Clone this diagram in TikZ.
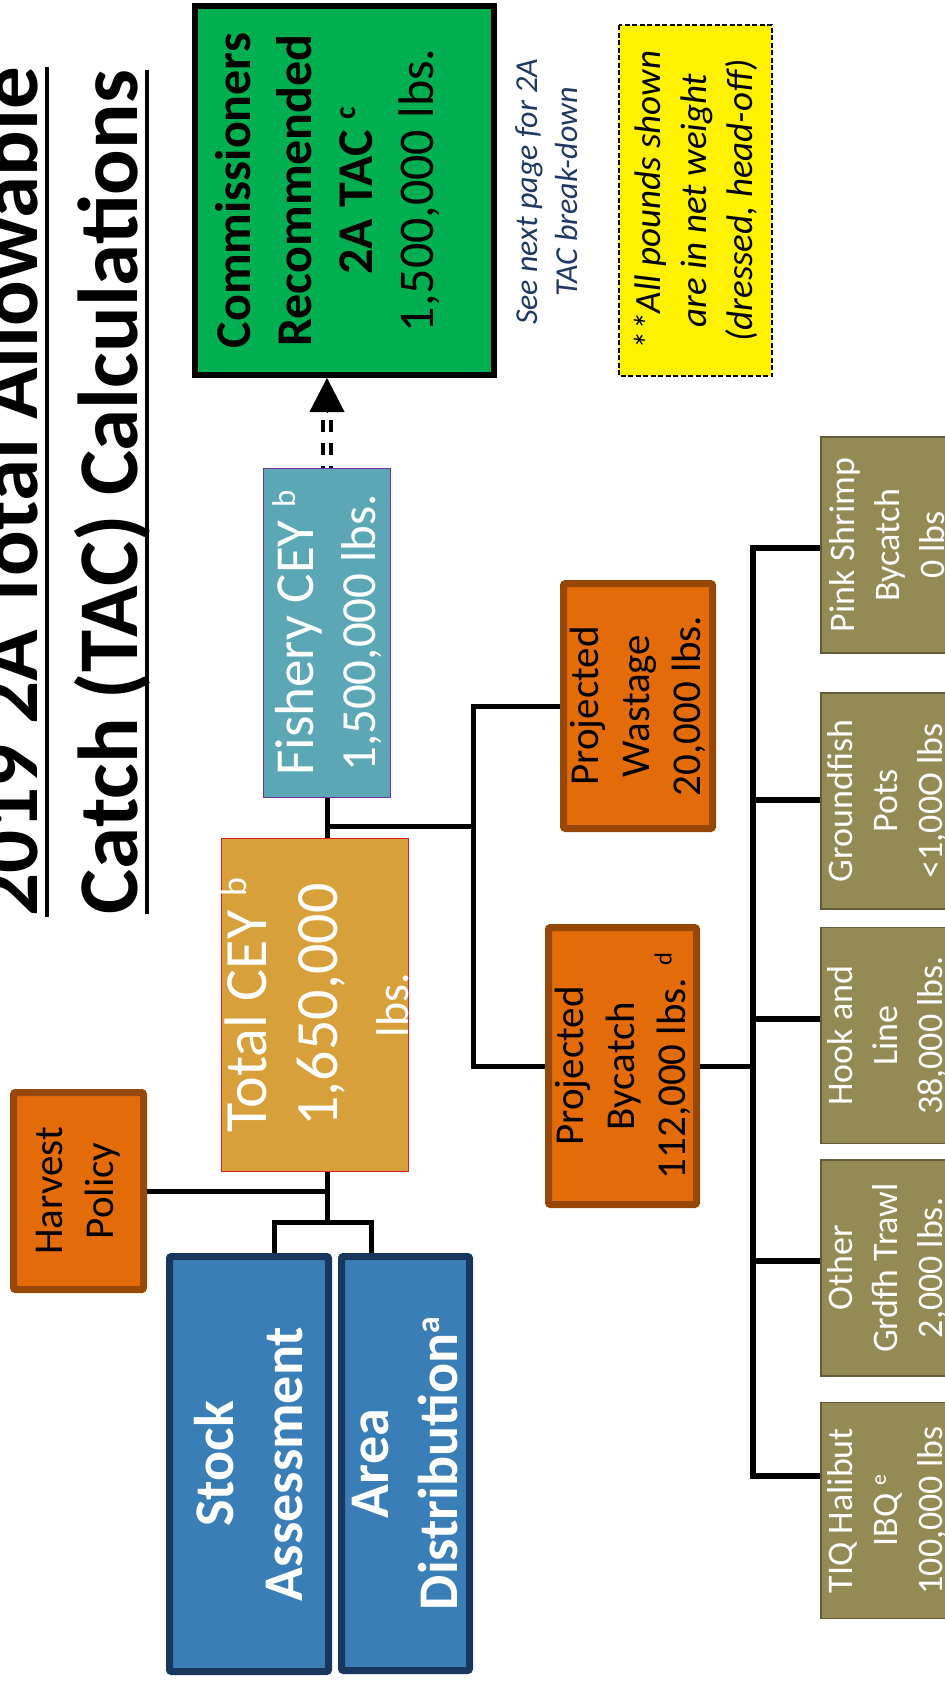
\documentclass[tikz,border=0pt]{standalone}
\usepackage{fontspec}
\usepackage{graphicx}
\setmainfont{Carlito}
\usetikzlibrary{calc,arrows.meta}
\definecolor{tacgreen}{RGB}{0,176,80}
\definecolor{orgfill}{RGB}{227,108,9}
\definecolor{orgline}{RGB}{152,72,6}
\definecolor{blufill}{RGB}{58,126,184}
\definecolor{bluline}{RGB}{23,55,94}
\definecolor{totfill}{RGB}{216,160,58}
\definecolor{totline}{RGB}{220,30,30}
\definecolor{fshfill}{RGB}{91,167,182}
\definecolor{fshline}{RGB}{112,48,160}
\definecolor{olvfill}{RGB}{148,138,84}
\definecolor{olvline}{RGB}{100,92,56}
\definecolor{seeblue}{RGB}{31,56,100}
\newcommand\supx[1]{\raisebox{0.33em}{\scalebox{0.6}{#1}}}
\begin{document}
\begin{tikzpicture}
    [x=1pt,y=-1pt,
     every node/.style={rotate=90,align=center,inner sep=0pt},
     ttl/.style={font=\bfseries\fontsize{85}{100}\selectfont},
     uline/.style={line width=3.5pt},
     greenbox/.style={draw=black,fill=tacgreen,line width=6pt,font=\fontsize{50}{61}\selectfont},
     notebox/.style={draw=black,fill=yellow,line width=1.5pt,dash pattern=on 5pt off 2.5pt,font=\itshape\fontsize{37}{46}\selectfont},
     seetext/.style={text=seeblue,font=\itshape\fontsize{32}{40}\selectfont},
     fishbox/.style={draw=fshline,fill=fshfill,line width=1pt,text=white,font=\fontsize{55}{62}\selectfont},
     totbox/.style={draw=totline,fill=totfill,line width=1pt,text=white,font=\fontsize{60}{71}\selectfont},
     orgbox/.style={draw=orgline,fill=orgfill,line width=7pt,rounded corners=2pt,font=\fontsize{41}{51}\selectfont},
     bluebox/.style={draw=bluline,fill=blufill,line width=7pt,rounded corners=2pt,text=white,font=\bfseries\fontsize{56}{69}\selectfont},
     olvbox/.style={draw=olvline,fill=olvfill,line width=1.5pt,text=white,minimum width=216pt,minimum height=133pt,font=\fontsize{36}{45}\selectfont},
     link/.style={line width=5pt},
     busline/.style={line width=6pt},
     dbl/.style={double,line width=4.3pt,double distance=3.3pt,dash pattern=on 12pt off 11pt,dash phase=10pt},
     tipln/.style={line width=0.5pt,-{Triangle[length=34pt,width=35pt]}}]
    \useasboundingbox (0,0) rectangle (945,1682);
    \clip (0,0) rectangle (945,1682);
    % title
    \node[ttl,anchor=base] (ttl1) at (37,492) {2019 2A Total Allowable};
    \node[ttl,anchor=base] (ttl2) at (137,492) {Catch (TAC) Calculations};
    \draw[uline] ($(ttl1.base west)+(10,0)$) -- ($(ttl1.base east)+(10,0)$);
    \draw[uline] ($(ttl2.base west)+(10,0)$) -- ($(ttl2.base east)+(10,0)$);
    % top row
    \node[greenbox,minimum width=369pt,minimum height=299pt] (comm) at (344.5,190.5)
      {\raisebox{15pt}[\height][\depth]{\begin{tabular}{@{}c@{}}\textbf{Commissioners}\\\textbf{Recommended}\\\textbf{2A TAC \supx{c}}\\1,500,000 lbs.\end{tabular}}};
    \node[seetext] (see) at (547,192) {See next page for 2A\\TAC break-down};
    \node[notebox,minimum width=351pt,minimum height=153pt] (note) at (695.5,200.5)
      {**All pounds shown\\are in net weight\\(dressed, head-off)};
    % main boxes
    \node[fishbox,minimum width=329pt,minimum height=127pt] (fish) at (327,633)
      {Fishery CEY \supx{b}\\{\fontsize{49}{58}\selectfont 1,500,000 lbs.}};
    \node[totbox,minimum width=333pt,minimum height=183pt] (tot) at (315,1005)
      {Total CEY \supx{b}\\1,650,000\\{\fontsize{46}{56}\selectfont lbs.}};
    \node[orgbox,minimum width=197pt,minimum height=130pt] (harv) at (78.5,1191) {Harvest\\Policy};
    \node[bluebox,minimum width=415pt,minimum height=159pt] (stock) at (249,1464) {Stock\\Assessment};
    \node[bluebox,minimum width=414pt,minimum height=128pt] (area) at (405.5,1463.5) {Area\\Distribution\supx{a}};
    \node[orgbox,minimum width=245pt,minimum height=149pt] (was) at (638,706) {Projected\\Wastage\\20,000 lbs.};
    \node[orgbox,minimum width=277pt,minimum height=148pt] (byc) at (622.5,1066) {Projected\\Bycatch\\112,000 lbs. \supx{d}};
    % bycatch sources
    \node[olvbox] (pink) at (887.5,545) {Pink Shrimp\\Bycatch\\0 lbs};
    \node[olvbox] (gpot) at (887.5,801) {Groundfish\\Pots\\<1,00O lbs};
    \node[olvbox] (hook) at (887.5,1035.5) {Hook and\\Line\\38,000 lbs.};
    \node[olvbox] (othr) at (887.5,1268) {Other\\Grdfh Trawl\\2,000 lbs.};
    \node[olvbox] (tiq) at (887.5,1510.5) {TIQ Halibut\\IBQ \supx{e}\\100,000 lbs};
    % joints
    \coordinate (tee) at (473,826);
    \coordinate (trunk) at (327,1222);
    \coordinate (brl) at (274,1222);
    \coordinate (brr) at (371,1222);
    \coordinate (bus) at (753,1067);
    \coordinate (tipbase) at ($(fish.east)+(0,-56)$);
    \foreach \b/\d in {pink/3,gpot/-1,hook/-17,othr/-7,tiq/-35}
      \coordinate (\b-in) at ($(\b.north)+(0,\d)$);
    % connectors
    \draw[dbl] (fish.east) -- (tipbase);
    \draw[tipln] (tipbase) -- (tipbase |- comm.west);
    \draw[link] (fish.west) -- (fish.west |- tot.east);
    \draw[link] (fish.west |- tee) -- (tee);
    \draw[link] (was.north) -| (tee |- byc.north) -- (byc.north);
    \draw[link] (trunk |- tot.west) -- (trunk);
    \draw[link] (harv.south) -- (harv.south -| trunk);
    \draw[link] (stock.east -| brl) |- (brr) -- (brr |- area.east);
    \draw[link] (byc.south) -- (byc.south -| bus);
    \draw[busline] (pink-in) -| (bus) |- (tiq-in);
    \foreach \b in {gpot,hook,othr}
      \draw[busline] (bus |- \b-in) -- (\b-in);
\end{tikzpicture}
\end{document}
